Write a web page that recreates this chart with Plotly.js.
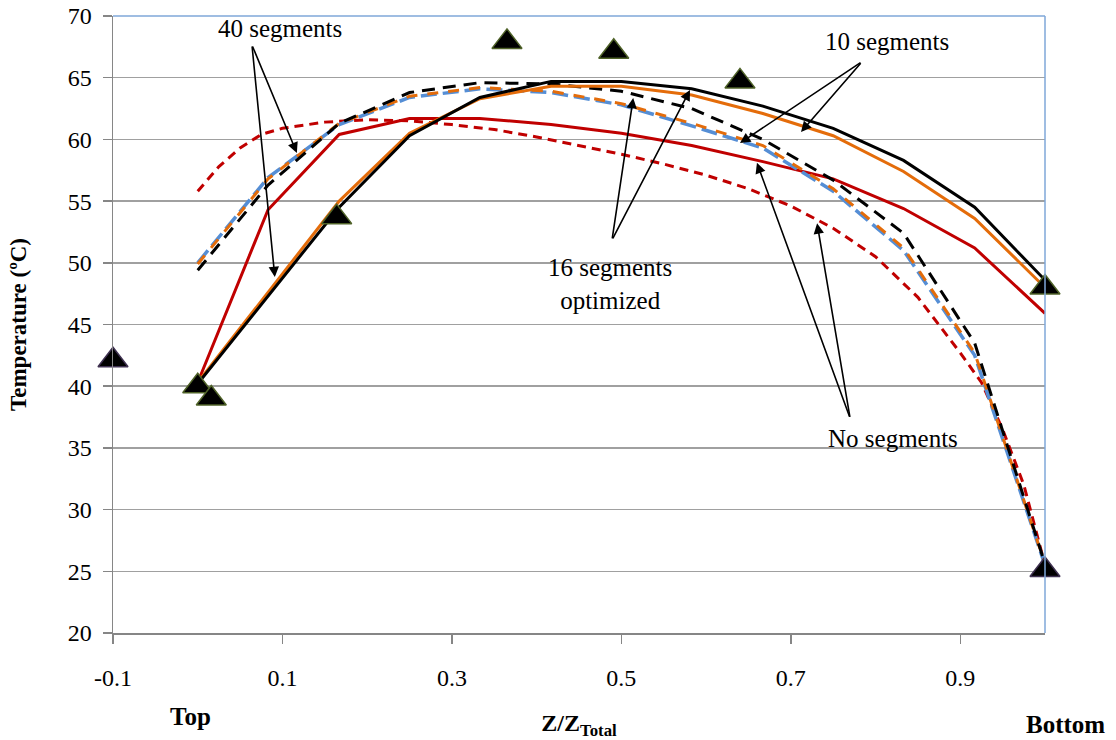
<!DOCTYPE html>
<html>
<head>
<meta charset="utf-8">
<script src="https://cdn.plot.ly/plotly-3.0.1.min.js"></script>
<style>html,body{margin:0;padding:0;background:#fff;}#chart{width:1116px;height:740px;}</style>
</head>
<body>
<div id="chart"></div>
<script>
// ---- data ----
const xSeg = [0, 0.083, 0.167, 0.25, 0.333, 0.417, 0.5, 0.583, 0.667, 0.75, 0.833, 0.917, 1.0];
const xSegB = [0, 0.167, 0.25, 0.333, 0.417, 0.5, 0.583, 0.667, 0.75, 0.833, 0.917, 1.0];

const blackSolidY  = [40.2, 54.5, 60.3, 63.4, 64.7, 64.7, 64.1, 62.7, 60.9, 58.3, 54.5, 48.6];
const orangeSolidY = [40.3, 55.0, 60.5, 63.3, 64.3, 64.3, 63.6, 62.1, 60.3, 57.4, 53.6, 48.0];
const redSolidY    = [40.3, 54.3, 60.4, 61.7, 61.7, 61.2, 60.5, 59.5, 58.2, 56.8, 54.4, 51.2, 45.9];
const blackDashY   = [49.4, 56.3, 61.3, 63.8, 64.6, 64.5, 63.9, 62.5, 60.0, 56.7, 52.4, 43.5, 25.6];
const orangeDashY  = [49.9, 56.8, 61.3, 63.5, 64.2, 63.9, 62.9, 61.3, 59.5, 56.0, 51.2, 42.7, 25.6];
const blueDashY    = [50.0, 56.9, 61.2, 63.4, 64.1, 63.8, 62.8, 61.1, 59.3, 55.8, 51.0, 42.5, 25.5];

const xRedDash = [0, 0.025, 0.05, 0.075, 0.1, 0.15, 0.2, 0.25, 0.3, 0.35, 0.4, 0.45, 0.5, 0.55, 0.6, 0.65, 0.7, 0.75, 0.8, 0.85, 0.9, 0.925, 0.95, 0.975, 1.0];
const redDashY = [55.8, 57.8, 59.3, 60.4, 60.9, 61.4, 61.6, 61.5, 61.2, 60.8, 60.2, 59.5, 58.8, 58.0, 57.1, 56.0, 54.6, 52.8, 50.5, 47.2, 42.7, 40.3, 36.5, 32.0, 25.5];

const expX = [-0.1, 0.0, 0.016, 0.164, 0.365, 0.491, 0.64, 1.0, 1.0];
const expY = [42.1, 40.0, 39.0, 53.7, 67.9, 67.1, 64.7, 48.0, 25.1];

const xTickVals = [-0.1, 0.1, 0.3, 0.5, 0.7, 0.9];
const xTickText = ["-0.1", "0.1", "0.3", "0.5", "0.7", "0.9"];
const yTickVals = [20, 25, 30, 35, 40, 45, 50, 55, 60, 65, 70];

// ---- styles ----
const RED = '#c00000', ORANGE = '#e46c0a', BLUE = '#558ed5', BLACK = '#000000';
const FONT = 'Liberation Serif';

const traces = [
  {x: xRedDash, y: redDashY, mode: 'lines', name: 'No segments (dashed)',
   line: {color: RED, width: 3, dash: '9px,6px'}},
  {x: xSeg, y: redSolidY, mode: 'lines', name: 'red solid',
   line: {color: RED, width: 3}},
  {x: xSeg, y: blueDashY, mode: 'lines', name: 'blue dashed',
   line: {color: BLUE, width: 3.5, dash: '16px,6px'}},
  {x: xSeg, y: orangeDashY, mode: 'lines', name: 'orange dashed',
   line: {color: ORANGE, width: 3, dash: '11px,10px'}},
  {x: xSeg, y: blackDashY, mode: 'lines', name: 'black dashed',
   line: {color: BLACK, width: 3, dash: '13px,8px'}},
  {x: xSegB, y: orangeSolidY, mode: 'lines', name: 'orange solid',
   line: {color: ORANGE, width: 3}},
  {x: xSegB, y: blackSolidY, mode: 'lines', name: 'black solid',
   line: {color: BLACK, width: 3}},
  {x: expX, y: expY, mode: 'markers', name: 'Experimental', cliponaxis: false,
   marker: {symbol: 'triangle-up', size: 26, color: '#000000',
     line: {width: 1.5, color: ['#3f3151', '#4f6228', '#4f6228', '#4f6228', '#4f6228', '#4f6228', '#4f6228', '#4f6228', '#3f3151']}}}
];

function arrow(x, y, ax, ay) {
  return {x: x, y: y, ax: ax, ay: ay, xref: 'x', yref: 'y', axref: 'x', ayref: 'y',
    text: '', showarrow: true, arrowhead: 2, arrowsize: 1.3, arrowwidth: 1.6, arrowcolor: '#000'};
}
function label(x, y, text) {
  return {x: x, y: y, xref: 'x', yref: 'y', text: text, showarrow: false,
    font: {family: FONT, size: 25, color: '#000'}, xanchor: 'center', yanchor: 'middle'};
}

const annotations = [
  label(0.097, 69.0, '40 segments'),
  arrow(0.117, 58.9, 0.064, 67.65),
  arrow(0.091, 48.85, 0.064, 67.65),
  label(0.813, 67.9, '10 segments'),
  arrow(0.640, 59.7, 0.784, 66.3),
  arrow(0.712, 60.6, 0.784, 66.3),
  label(0.487, 48.3, '16 segments<br>optimized'),
  arrow(0.514, 63.35, 0.489, 51.85),
  arrow(0.581, 64.0, 0.489, 51.85),
  label(0.821, 35.8, 'No segments'),
  arrow(0.660, 58.1, 0.770, 37.4),
  arrow(0.731, 53.2, 0.770, 37.4),
  {x: 0.083, y: -0.135, xref: 'paper', yref: 'paper', text: '<b>Top</b>', showarrow: false,
   font: {family: FONT, size: 25, color: '#000'}, xanchor: 'center', yanchor: 'middle'},
  {x: 1.0225, y: -0.148, xref: 'paper', yref: 'paper', text: '<b>Bottom</b>', showarrow: false,
   font: {family: FONT, size: 25, color: '#000'}, xanchor: 'center', yanchor: 'middle'}
];

const layout = {
  width: 1116, height: 740,
  margin: {l: 113, r: 71, t: 16, b: 107},
  paper_bgcolor: '#fff', plot_bgcolor: '#fff',
  showlegend: false,
  font: {family: FONT, size: 24, color: '#000'},
  xaxis: {
    range: [-0.1, 1.0], tickmode: 'array', tickvals: xTickVals, ticktext: xTickText,
    showgrid: false, zeroline: false, showline: true, linecolor: '#868686', linewidth: 1.5,
    ticks: 'outside', ticklen: 9, tickcolor: '#868686', tickwidth: 1.5,
    ticklabelstandoff: 14,
    tickfont: {family: FONT, size: 24, color: '#000'},
    title: {text: '<b>Z/Z<sub>Total</sub></b>', font: {family: FONT, size: 24, color: '#000'}, standoff: 26}
  },
  yaxis: {
    range: [20, 70], tickmode: 'array', tickvals: yTickVals,
    showgrid: true, gridcolor: '#a0a0a0', gridwidth: 1.5, zeroline: false,
    showline: true, linecolor: '#868686', linewidth: 1.5,
    ticks: 'outside', ticklen: 9, tickcolor: '#868686', tickwidth: 1.5,
    ticklabelstandoff: 6,
    tickfont: {family: FONT, size: 24, color: '#000'},
    title: {text: '<b>Temperature (ºC)</b>', font: {family: FONT, size: 23, color: '#000'}, standoff: 34}
  },
  shapes: [
    {type: 'line', xref: 'paper', yref: 'paper', x0: 0, x1: 1, y0: 1, y1: 1, line: {color: '#7fa7d9', width: 1.5}},
    {type: 'line', xref: 'paper', yref: 'paper', x0: 1, x1: 1, y0: 0, y1: 1, line: {color: '#7fa7d9', width: 1.5}}
  ],
  annotations: annotations
};

Plotly.newPlot('chart', traces, layout, {displayModeBar: false, staticPlot: true});
</script>
</body>
</html>
